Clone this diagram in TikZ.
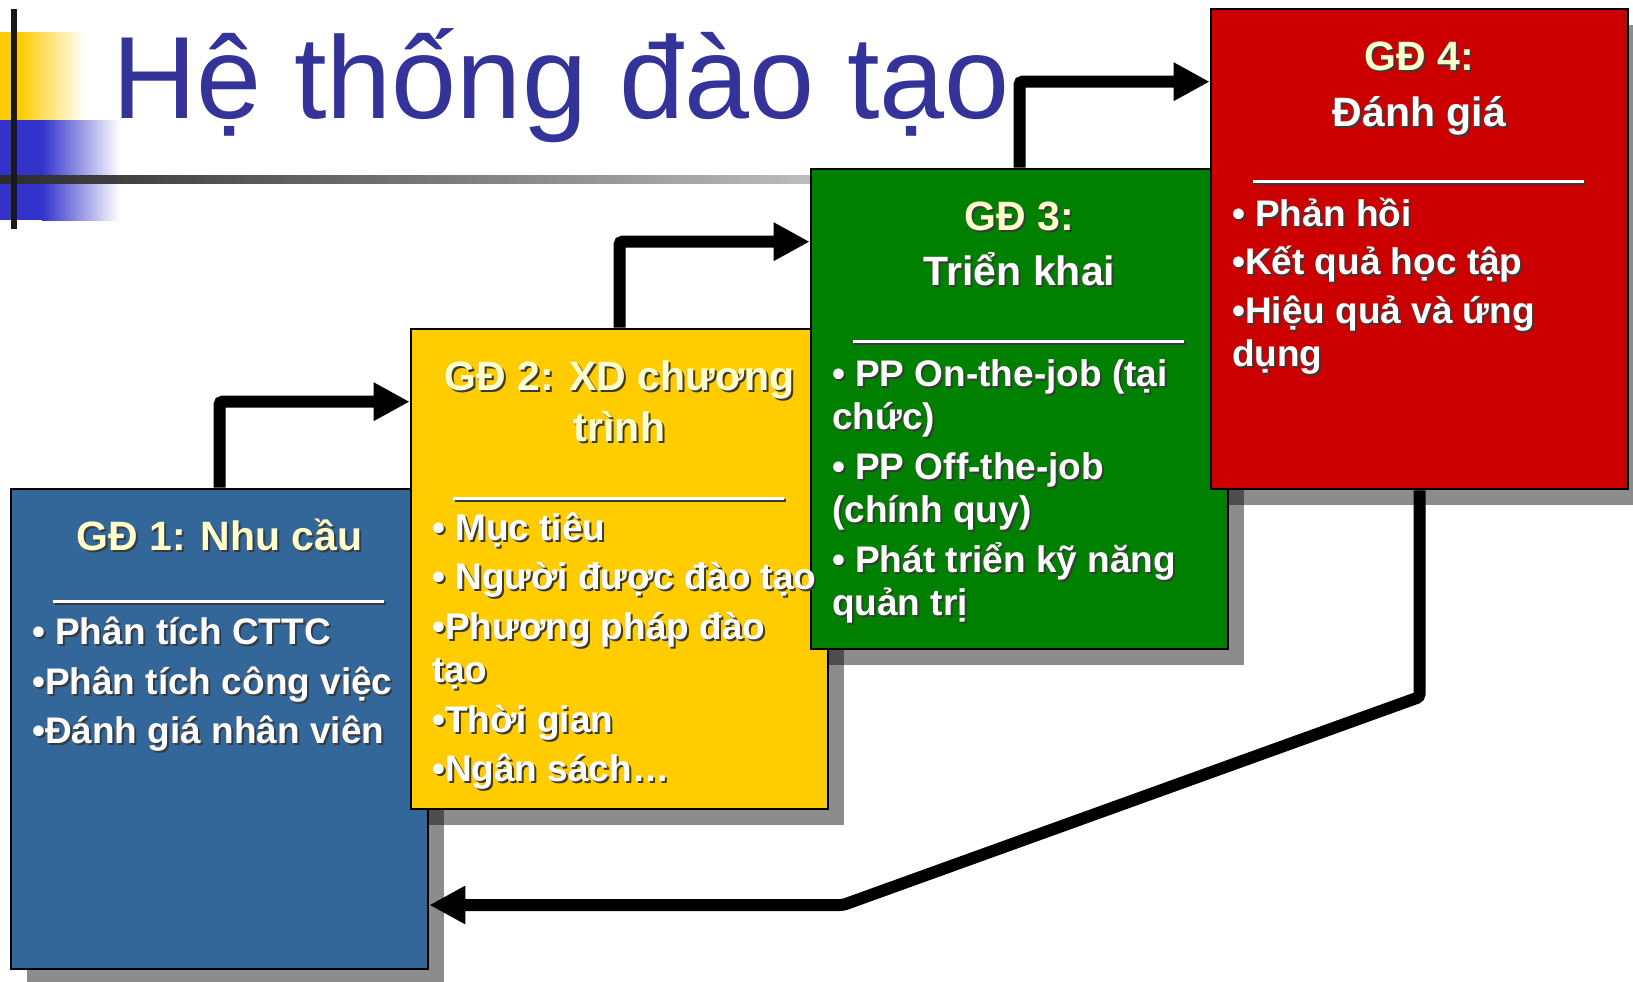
\documentclass[tikz,border=0pt]{standalone}
\usepackage{fontspec}
\setmainfont{Liberation Sans}
\usetikzlibrary{arrows.meta,calc,shadows}

\definecolor{gdblue}{HTML}{336699}
\definecolor{gdyellow}{HTML}{FFCC00}
\definecolor{gdgreen}{HTML}{008000}
\definecolor{gdred}{HTML}{CC0000}
\definecolor{gdhead}{HTML}{FFFFCC}
\definecolor{titleblue}{HTML}{333399}
\definecolor{decoblue}{HTML}{3333CC}
\definecolor{txtshadow}{HTML}{3A3A3A}

% text with a small dark shadow below right
\newcommand{\shd}[1]{\rlap{\kern1pt\raisebox{-1pt}{\color{txtshadow}#1}}#1}

\tikzset{
  stagebox/.style={draw=black, line width=1.3pt, minimum width=208.5pt,
    minimum height=240pt, inner sep=0pt,
    drop shadow={shadow xshift=8pt, shadow yshift=-8pt, opacity=.45, fill=black}},
  % multi-line nodes: base = baseline of the last line
  stagehead/.style={anchor=base, inner sep=0pt, align=center, text=gdhead,
    font=\bfseries\fontsize{20.5}{25.5}\selectfont},
  stagebody/.style={anchor=base west, inner sep=0pt, align=left, text=white,
    font=\bfseries\fontsize{18.5}{21.75}\selectfont},
  flow/.style={line width=6pt, rounded corners=1.5pt, -{Triangle[length=18pt,width=18pt]}},
}

\begin{document}
\begin{tikzpicture}[x=0.5pt, y=-0.5pt]
\useasboundingbox (0,0) rectangle (1633,981);

% title decoration
\fill[gdyellow] (0,32) rectangle (20,120);
\shade[left color=gdyellow, right color=white] (20,32) rectangle (85,120);
\fill[decoblue] (0,120) rectangle (42,220);
\shade[left color=decoblue, right color=white] (42,120) rectangle (120,220);
\shade[left color=black!83, right color=black!26] (0,175) rectangle (811,183);
\fill[black!90] (11,9) rectangle (17,229);

\node[anchor=base west, inner sep=0pt, text=titleblue,
  font=\fontsize{58.5}{70}\selectfont] (title) at (112,118) {Hệ thống đào tạo};

% stages
\node[stagebox, fill=gdblue] (gd1) at (219.5,729) {};
\node[stagebox, fill=gdyellow] (gd2) at (619.5,569) {};
\node[stagebox, fill=gdgreen] (gd3) at (1019.5,409) {};
\node[stagebox, fill=gdred] (gd4) at (1419.5,249) {};

\node[stagehead] (head1) at ($(gd1.north)+(0,63)$) {\shd{GĐ 1: Nhu cầu}};
\node[stagehead] (head2) at ($(gd2.north)+(0,114)$) {\shd{GĐ 2: XD chương}\\\shd{trình}};
\node[stagehead] (head3) at ($(gd3.north)+(0,118)$) {\shd{GĐ 3:}\\[2pt]\color{white}\shd{Triển khai}};
\node[stagehead] (head4) at ($(gd4.north)+(0,119)$) {\shd{GĐ 4:}\\[2.5pt]\color{white}\shd{Đánh giá}};

\foreach \b/\d in {gd1/114, gd2/171, gd3/174, gd4/174}{
  \draw[line width=1.6pt, txtshadow] ($(\b.north west)+(45,\d+2)$) -- ++(331,0);
  \draw[line width=1.6pt, white] ($(\b.north west)+(43,\d)$) -- ++(331,0);
}

\node[stagebody] (body1) at ($(gd1.north west)+(22,256)$)
  {\shd{• Phân tích CTTC}\\[3pt]\shd{•Phân tích công việc}\\[3pt]\shd{•Đánh giá nhân viên}};
\node[stagebody] (body2) at ($(gd2.north west)+(22,454)$)
  {\shd{• Mục tiêu}\\[3pt]\shd{• Người được đào tạo}\\[3pt]\shd{•Phương pháp đào}\\\shd{tạo}\\[3pt]%
   \shd{•Thời gian}\\[3pt]\shd{•Ngân sách…}};
\node[stagebody] (body3) at ($(gd3.north west)+(22,448)$)
  {\shd{• PP On-the-job (tại}\\\shd{chức)}\\[3pt]\shd{• PP Off-the-job}\\\shd{(chính quy)}\\[3pt]%
   \shd{• Phát triển kỹ năng}\\\shd{quản trị}};
\node[stagebody] (body4) at ($(gd4.north west)+(22,359)$)
  {\shd{• Phản hồi}\\[2.5pt]\shd{•Kết quả học tập}\\[2.5pt]\shd{•Hiệu quả và ứng}\\\shd{dụng}};

% arrows
\draw[flow] (gd1.north) |- ($(gd2.north west)+(0,74)$);
\draw[flow] (gd2.north) |- ($(gd3.north west)+(0,74)$);
\draw[flow] (gd3.north) |- ($(gd4.north west)+(0,74)$);
\coordinate (back1) at (1419.5,697);
\coordinate (back2) at (843,905);
\draw[flow] (gd4.south) -- (back1) -- (back2) -- (back2 -| gd1.east);
\end{tikzpicture}
\end{document}
